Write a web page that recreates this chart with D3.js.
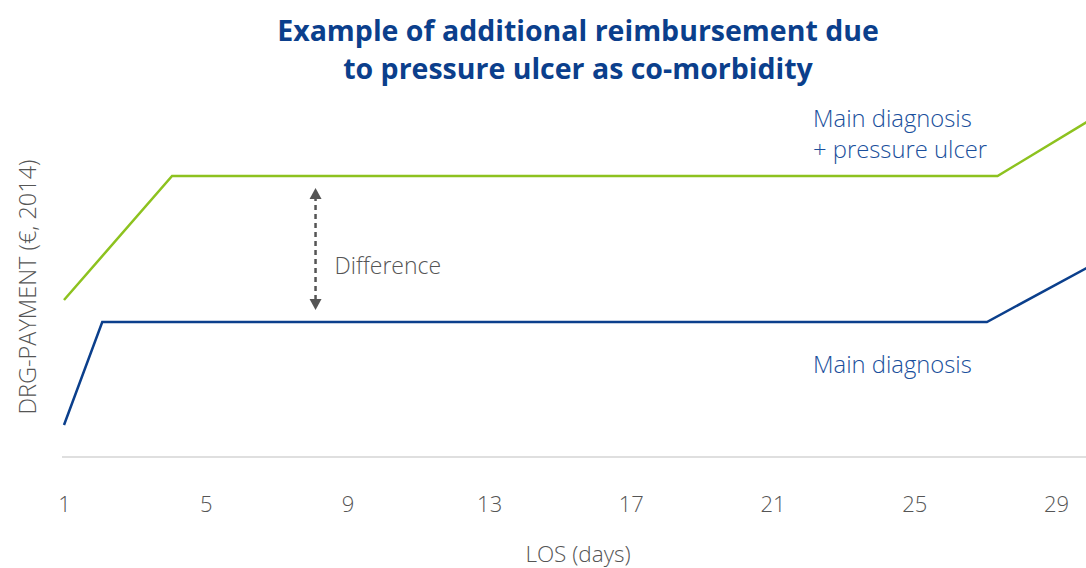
<!DOCTYPE html>
<html>
<head>
<meta charset="utf-8">
<script src="https://cdn.jsdelivr.net/npm/d3@7"></script>
<style>
  body { margin: 0; background: #fff; }
  svg text { font-family: "Open Sans", "Noto Sans", sans-serif; }
</style>
</head>
<body>
<div id="chart"></div>
<script>
const FRAME_WIDTH = 1086;
const FRAME_HEIGHT = 568;

// data (LOS in days, payment in euros, no y ticks shown)
const ticks = [1, 5, 9, 13, 17, 21, 25, 29];
const mainDays = [1, 2.08, 27.05, 29.92];
const mainPay = [320, 1350, 1350, 1900];
const ulcerDays = [1, 4.05, 27.35, 29.92];
const ulcerPay = [1570, 2810, 2810, 3360];
const diffDay = 8.1;

let svg = d3.select("#chart").append("svg")
  .attr("width", FRAME_WIDTH)
  .attr("height", FRAME_HEIGHT);

let x = d3.scaleLinear().domain([1, 29]).range([64, 1056]);
let y = d3.scaleLinear().domain([0, 3500]).range([457, 107]);

// title
svg.append("text")
  .attr("x", 578).attr("y", 41)
  .attr("text-anchor", "middle")
  .style("font-size", "28.5px").style("font-weight", "bold")
  .attr("fill", "#0b3f8c")
  .text("Example of additional reimbursement due");
svg.append("text")
  .attr("x", 578).attr("y", 79)
  .attr("text-anchor", "middle")
  .style("font-size", "28.5px").style("font-weight", "bold")
  .attr("fill", "#0b3f8c")
  .text("to pressure ulcer as co-morbidity");

// baseline
svg.append("line")
  .attr("x1", x(1) - 2).attr("x2", FRAME_WIDTH)
  .attr("y1", y(0)).attr("y2", y(0))
  .attr("stroke", "#d4d4d4").attr("stroke-width", 1.5);

// x axis tick labels
let xAxis = svg.append("g")
  .attr("transform", "translate(0," + (y(0) + 39) + ")")
  .call(d3.axisBottom(x).tickValues(ticks).tickSize(0).tickPadding(0));
xAxis.select(".domain").remove();
xAxis.selectAll("text")
  .style("font-size", "22px").style("font-weight", 300)
  .attr("fill", "#555");

svg.append("text")
  .attr("x", 578).attr("y", 562)
  .attr("text-anchor", "middle")
  .style("font-size", "22.5px").style("font-weight", 300)
  .attr("fill", "#555")
  .text("LOS (days)");

svg.append("text")
  .attr("transform", "translate(36,287) rotate(-90)")
  .attr("text-anchor", "middle")
  .style("font-size", "23.5px").style("font-weight", 300)
  .attr("fill", "#555")
  .text("DRG-PAYMENT (€, 2014)");

// lines
let line = d3.line().x(d => x(d[0])).y(d => y(d[1]));

svg.append("path")
  .datum(ulcerDays.map((d, i) => [d, ulcerPay[i]]))
  .attr("d", line)
  .attr("fill", "none")
  .attr("stroke", "#8dc21f")
  .attr("stroke-width", 2.5);

svg.append("path")
  .datum(mainDays.map((d, i) => [d, mainPay[i]]))
  .attr("d", line)
  .attr("fill", "none")
  .attr("stroke", "#0b3f8c")
  .attr("stroke-width", 2.5);

// difference arrow
let ax = x(diffDay);
let yTop = y(ulcerPay[1]) + 12;
let yBot = y(mainPay[1]) - 12;
svg.append("line")
  .attr("x1", ax).attr("x2", ax)
  .attr("y1", yTop + 8).attr("y2", yBot - 8)
  .attr("stroke", "#555").attr("stroke-width", 2.5)
  .attr("stroke-dasharray", "5,4");
svg.append("path")
  .attr("d", "M" + ax + "," + yTop + "l-6,11h12z")
  .attr("fill", "#555");
svg.append("path")
  .attr("d", "M" + ax + "," + yBot + "l-6,-11h12z")
  .attr("fill", "#555");

svg.append("text")
  .attr("x", ax + 19).attr("y", 274)
  .style("font-size", "23px").style("font-weight", 300)
  .attr("fill", "#555")
  .text("Difference");

// series labels
svg.append("text")
  .attr("x", 813).attr("y", 127)
  .style("font-size", "23.8px").style("font-weight", 300)
  .attr("fill", "#1a4f9c")
  .text("Main diagnosis");
svg.append("text")
  .attr("x", 813).attr("y", 158)
  .style("font-size", "23.8px").style("font-weight", 300)
  .attr("fill", "#1a4f9c")
  .text("+ pressure ulcer");
svg.append("text")
  .attr("x", 813).attr("y", 373)
  .style("font-size", "23.8px").style("font-weight", 300)
  .attr("fill", "#1a4f9c")
  .text("Main diagnosis");
</script>
</body>
</html>
